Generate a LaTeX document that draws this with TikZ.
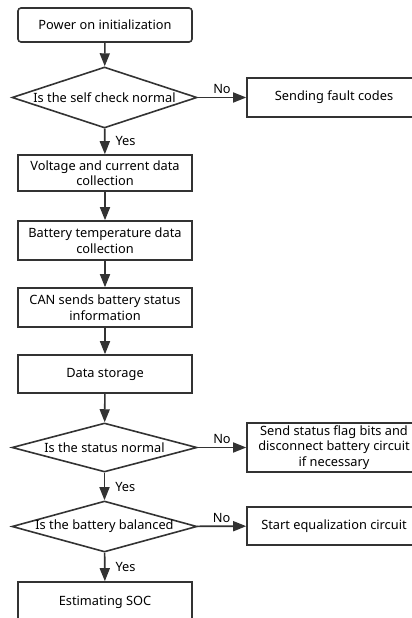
\documentclass[tikz,border=0pt]{standalone}
\usepackage{fontspec}
\setmainfont{Noto Sans}
\usetikzlibrary{arrows.meta}
\usetikzlibrary{shapes.geometric}
\definecolor{linegray}{HTML}{333333}
\tikzset{>={Triangle[length=13pt,width=10pt]}}
\tikzset{
  stepbox/.style={draw=linegray, line width=1.6pt, rectangle, minimum width=174pt,
    align=center, inner sep=0pt, font=\fontsize{12.8}{15.5}\selectfont},
  startbox/.style={stepbox, rounded corners=3pt},
  decision/.style={draw=linegray, line width=1.6pt, diamond, minimum width=185pt,
    inner sep=0pt, label={[font=\fontsize{12.8}{15.5}\selectfont]center:#1}},
  flow/.style={->, draw=linegray, line width=1.6pt},
  tag/.style={font=\fontsize{12.8}{15.5}\selectfont, inner sep=2pt}
}

\begin{document}
\begin{tikzpicture}[x=1pt, y=-1pt]
      \clip (0,0) rectangle (412,618);
      % nodes
      \node[startbox, minimum height=34pt] (init) at (105,25) {Power on initialization};
      \node[decision={Is the self check normal}, minimum height=61pt] (check) at (104.5,97.5) {};
      \node[stepbox, minimum height=39pt] (fault) at (334,97.5) {Sending fault codes};
      \node[stepbox, minimum height=36pt] (volt) at (105,173) {Voltage and current data\\collection};
      \node[stepbox, minimum height=39pt] (temp) at (105,240.5) {Battery temperature data\\collection};
      \node[stepbox, minimum height=39pt] (can) at (105,307.5) {CAN sends battery status\\information};
      \node[stepbox, minimum height=38pt] (store) at (105,374) {Data storage};
      \node[decision={Is the status normal}, minimum height=49pt] (status) at (104.5,447.5) {};
      \node[stepbox, minimum height=49pt] (flag) at (334,447.5) {Send status flag bits and\\disconnect battery circuit\\if necessary};
      \node[decision={Is the battery balanced}, minimum height=51pt] (balance) at (104.5,526.5) {};
      \node[stepbox, minimum height=38pt] (equal) at (334,526) {Start equalization circuit};
      \node[stepbox, minimum height=40pt] (soc) at (105,602) {Estimating SOC};
      % lines
      \draw[flow] (init) -- (check);
      \draw[flow] (check) -- node[tag, midway, above, yshift=1pt] {No} (fault);
      \draw[flow] (check) -- node[tag, midway, right, xshift=8pt] {Yes} (volt);
      \draw[flow] (volt) -- (temp);
      \draw[flow] (temp) -- (can);
      \draw[flow] (can) -- (store);
      \draw[flow] (store) -- (status);
      \draw[flow] (status) -- node[tag, midway, above, yshift=1pt] {No} (flag);
      \draw[flow] (status) -- node[tag, midway, right, xshift=8pt] {Yes} (balance);
      \draw[flow] (balance) -- node[tag, midway, above, yshift=1pt] {No} (equal);
      \draw[flow] (balance) -- node[tag, midway, right, xshift=8pt] {Yes} (soc);
    \end{tikzpicture}
\end{document}
